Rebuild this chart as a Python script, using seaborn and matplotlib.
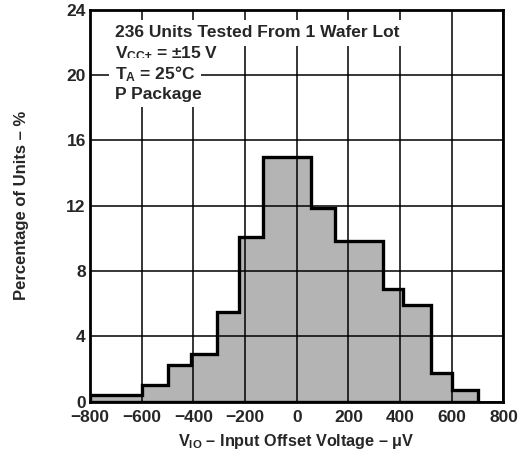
import numpy as np
import pandas as pd
import matplotlib
matplotlib.use("Agg")
import matplotlib.pyplot as plt
import seaborn as sns

# ---- data ----
bin_edges = [-800, -600, -500, -410, -310, -225, -130, 55, 150, 335, 410, 518, 600, 700]
percent_units = [0.42, 1.0, 2.25, 2.93, 5.5, 10.1, 15.0, 11.84, 9.84, 6.9, 5.92, 1.78, 0.72]
x_ticks = [-800, -600, -400, -200, 0, 200, 400, 600, 800]
x_tick_labels = ["\u2212800", "\u2212600", "\u2212400", "\u2212200", "0", "200", "400", "600", "800"]
y_ticks = [0, 4, 8, 12, 16, 20, 24]
notes = ["236 Units Tested From 1 Wafer Lot",
         "V$_{CC\u00b1}$ = \u00b115 V",
         "T$_{A}$ = 25\u00b0C",
         "P Package"]

sns.set_style("white")
plt.rcParams["font.family"] = ["Liberation Sans", "DejaVu Sans"]
plt.rcParams["font.weight"] = "bold"
plt.rcParams["mathtext.fontset"] = "custom"
plt.rcParams["mathtext.rm"] = "Liberation Sans:bold"
plt.rcParams["mathtext.bf"] = "Liberation Sans:bold"
plt.rcParams["mathtext.it"] = "Liberation Sans:bold"
plt.rcParams["mathtext.default"] = "rm"

edges = [float(e) for e in bin_edges]
df = pd.DataFrame({
    "voltage": [(a + b) / 2 for a, b in zip(edges[:-1], edges[1:])],
    "pct": percent_units,
})

fig = plt.figure(figsize=(5.28, 4.57), dpi=100)
ax = fig.add_axes([0.1705, 0.121, 0.783, 0.8576])

# gray fill
sns.histplot(data=df, x="voltage", weights="pct", bins=edges, element="step",
             fill=True, color="#b4b4b4", alpha=1, linewidth=0, ax=ax)
fill_art = ax.collections[-1]
fill_art.set_zorder(1)
fill_art.set_edgecolor("none")

# black outline above grid
sns.histplot(data=df, x="voltage", weights="pct", bins=edges, element="step",
             fill=True, color="black", alpha=1, ax=ax)
edge_art = ax.collections[-1]
edge_art.set_facecolor("none")
edge_art.set_edgecolor("black")
edge_art.set_linewidth(2.4)
edge_art.set_joinstyle("miter")
edge_art.set_zorder(2.2)

ax.set_xlim(-800, 800)
ax.set_ylim(0, 24)
ax.set_xticks(x_ticks)
ax.set_xticklabels(x_tick_labels)
ax.set_yticks(y_ticks)
ax.set_axisbelow("line")
ax.grid(True, color="black", linewidth=1.1)
ax.tick_params(length=0, labelsize=12.5)
ax.tick_params(axis="x", pad=6)
ax.tick_params(axis="y", pad=3)
for lab in ax.get_xticklabels() + ax.get_yticklabels():
    lab.set_fontweight("bold")
for sp in ax.spines.values():
    sp.set_visible(True)
    sp.set_color("black")
    sp.set_linewidth(2.0)
    sp.set_zorder(3)

ax.set_xlabel("V$_{IO}$ \u2013 Input Offset Voltage \u2013 \u03bcV", fontsize=11.7,
              fontweight="bold", labelpad=5)
ax.set_ylabel("Percentage of Units \u2013 %", fontsize=12, fontweight="bold", labelpad=27)

y_pos = [0.941, 0.889, 0.837, 0.785]
for txt, yp in zip(notes, y_pos):
    ax.text(0.06, yp, txt, transform=ax.transAxes, fontsize=12.5, fontweight="bold",
            ha="left", va="center", zorder=4,
            bbox=dict(facecolor="white", edgecolor="none", pad=4))

fig.savefig("out.png", dpi=100)
